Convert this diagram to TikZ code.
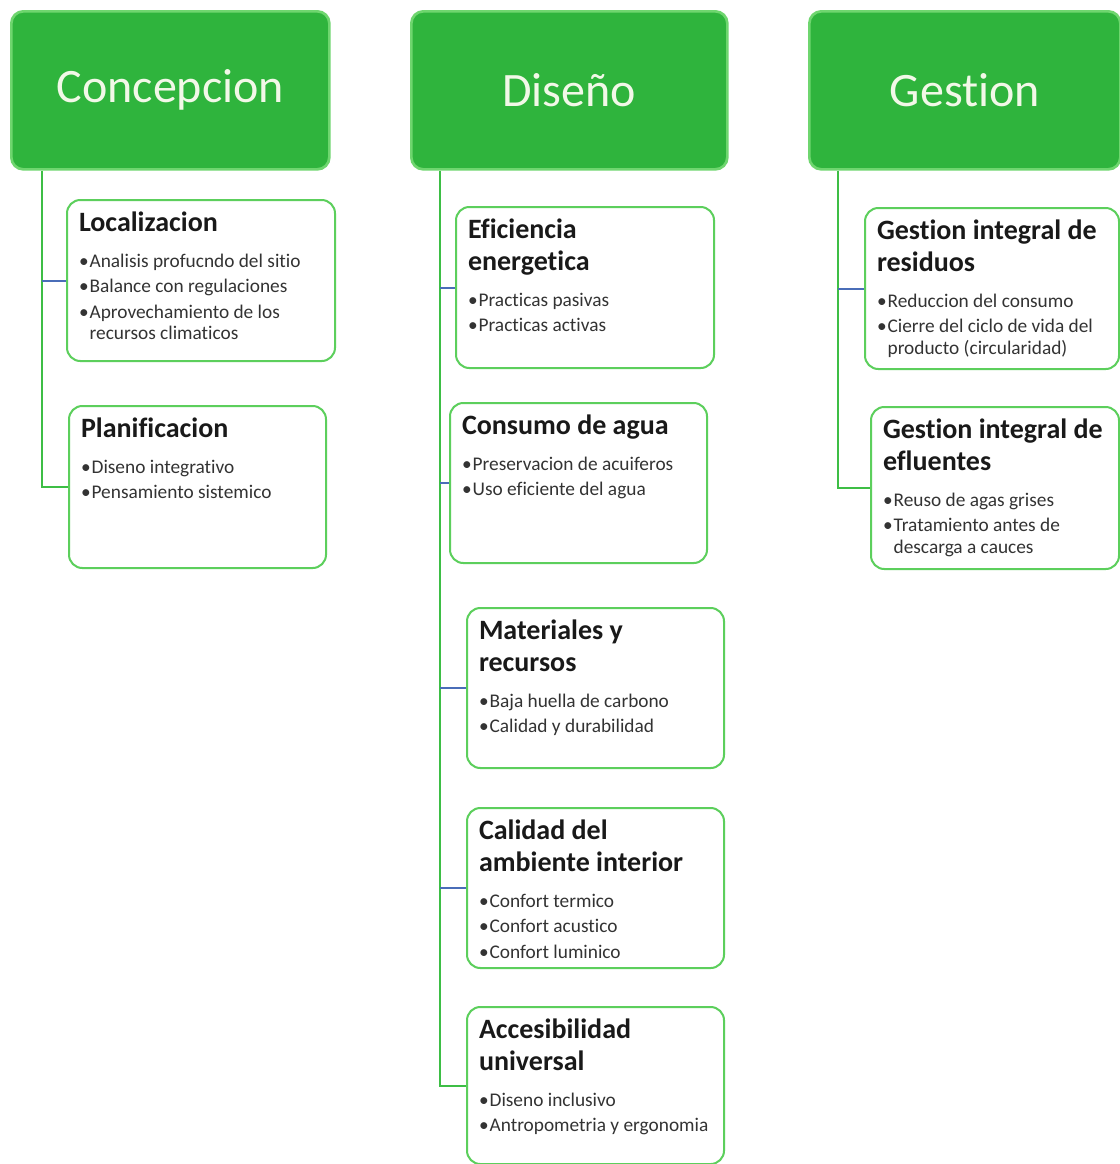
\documentclass[tikz,border=0pt]{standalone}
\usepackage{fontspec}
\setmainfont{Carlito}[Ligatures=NoCommon]
\usetikzlibrary{positioning}

\definecolor{headgreen}{HTML}{2FB43D}
\definecolor{rimgreen}{HTML}{6FD66F}
\definecolor{edgegreen}{HTML}{5CCF5C}
\definecolor{linegreen}{HTML}{3DBE45}
\definecolor{lineblue}{HTML}{4A6DB8}
\definecolor{headtext}{HTML}{F2F8E8}

% box text: width, height, title, items
\newcommand{\cbox}[4]{\parbox[c][\dimexpr#2-18pt\relax][t]{\dimexpr#1-18pt\relax}{\raggedright
  {\fontsize{21}{24}\selectfont\bfseries\color{black!90}#3\par}\vspace{8pt}
  \fontsize{14.5}{16}\selectfont\color{black!80}\setlength{\parskip}{3pt}#4}}
\newcommand{\bitem}[1]{\par\hangindent=0.55em\noindent\makebox[0.55em][l]{\textbullet}#1}

\begin{document}
\begin{tikzpicture}[x=0.75pt,y=-0.75pt,
    headbox/.style={draw=rimgreen,fill=headgreen,line width=2pt,rounded corners=9pt,
      anchor=north west,minimum height=118.5pt,text=headtext,font=\fontsize{36}{42}\selectfont},
    childbox/.style={draw=edgegreen,fill=white,line width=1.5pt,rounded corners=10pt,
      anchor=north west,inner sep=9pt},
    trunk/.style={draw=linegreen,line width=1.5pt},
    twig/.style={draw=lineblue,line width=1.5pt}]
    \useasboundingbox[fill=white] (0,0) rectangle (1120,1164);

    \node[headbox,minimum width=238.5pt] (conc) at (10,10) {Concepcion};
    \node[headbox,minimum width=237pt] (dis) at (410,10) {Diseño};
    \node[headbox,minimum width=233.25pt] (gest) at (808,10) {Gestion};

    \node[childbox] (loc) at (66,199) {\cbox{201pt}{120.75pt}{Localizacion}{%
        \bitem{Analisis profucndo del sitio}\bitem{Balance con regulaciones}%
        \bitem{Aprovechamiento de los\newline recursos climaticos}}};
    \node[childbox] (plan) at (68,405) {\cbox{192.75pt}{121.5pt}{Planificacion}{%
        \bitem{Diseno integrativo}\bitem{Pensamiento sistemico}}};

    \node[childbox] (efi) at (455,206) {\cbox{193.5pt}{120.75pt}{Eficiencia\\energetica}{%
        \bitem{Practicas pasivas}\bitem{Practicas activas}}};
    \node[childbox] (agua) at (449,402) {\cbox{192.75pt}{120pt}{Consumo de agua}{%
        \bitem{Preservacion de acuiferos}\bitem{Uso eficiente del agua}}};
    \node[childbox] (mat) at (466,607) {\cbox{192.75pt}{120pt}{Materiales y\\recursos}{%
        \bitem{Baja huella de carbono}\bitem{Calidad y durabilidad}}};
    \node[childbox] (cal) at (466,807) {\cbox{192.75pt}{120pt}{Calidad del\\ambiente interior}{%
        \bitem{Confort termico}\bitem{Confort acustico}\bitem{Confort luminico}}};
    \node[childbox] (acc) at (466,1006) {\cbox{192.75pt}{117.75pt}{Accesibilidad\\universal}{%
        \bitem{Diseno inclusivo}\bitem{Antropometria y ergonomia}}};

    \node[childbox] (res) at (864,207) {\cbox{190.5pt}{120.75pt}{Gestion integral de\\residuos}{%
        \bitem{Reduccion del consumo}\bitem{Cierre del ciclo de vida del\newline producto (circularidad)}}};
    \node[childbox] (efl) at (870,406) {\cbox{186pt}{121.5pt}{Gestion integral de\\efluentes}{%
        \bitem{Reuso de agas grises}\bitem{Tratamiento antes de\newline descarga a cauces}}};

    % connectors
    \coordinate (concT) at ([xshift=24pt]conc.south west);
    \coordinate (disT) at ([xshift=22.5pt]dis.south west);
    \coordinate (gestT) at ([xshift=22.5pt]gest.south west);

    \draw[trunk] (concT) |- (plan.west);
    \draw[twig] (concT |- loc.west) -- (loc.west);

    \draw[trunk] (disT) |- (acc.west);
    \draw[twig] (disT |- efi.west) -- (efi.west);
    \draw[twig] (disT |- agua.west) -- (agua.west);
    \draw[twig] (disT |- mat.west) -- (mat.west);
    \draw[twig] (disT |- cal.west) -- (cal.west);

    \draw[trunk] (gestT) |- (efl.west);
    \draw[twig] (gestT |- res.west) -- (res.west);
\end{tikzpicture}
\end{document}
